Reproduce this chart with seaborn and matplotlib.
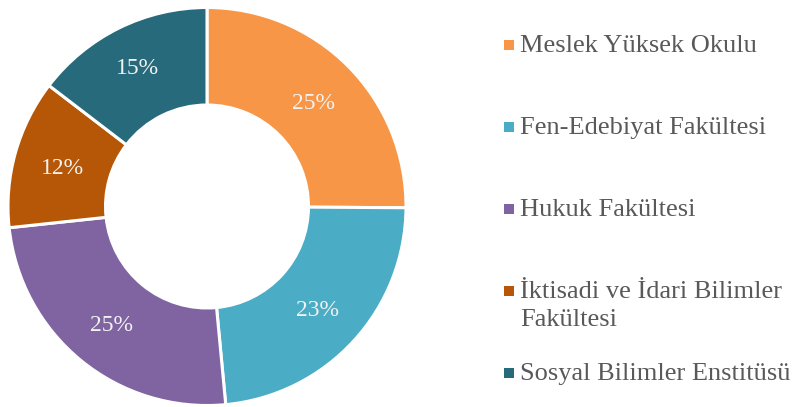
import matplotlib
matplotlib.use("Agg")
import matplotlib.pyplot as plt
import seaborn as sns
import numpy as np

categories = ["Meslek Yüksek Okulu", "Fen-Edebiyat Fakültesi", "Hukuk Fakültesi",
              "İktisadi ve İdari Bilimler\nFakültesi", "Sosyal Bilimler Enstitüsü"]
values = [25.1, 23.4, 24.8, 12.1, 14.6]
colors = ["#F79646", "#4BACC6", "#8064A2", "#B65708", "#276A7C"]

sns.set_theme(style="white")
plt.rcParams["font.family"] = ["Liberation Serif", "DejaVu Serif"]

W, H = 796, 407
fig = plt.figure(figsize=(W / 100, H / 100), dpi=100)
fig.patch.set_facecolor("white")

cx, cy, R = 207, 206.5, 199
ax = fig.add_axes([(cx - R) / W, (H - cy - R) / H, 2 * R / W, 2 * R / H])
palette = sns.color_palette(colors)
wedges, texts, autotexts = ax.pie(
    values, colors=palette, startangle=90, counterclock=False, radius=1,
    autopct="%.0f%%", pctdistance=0.755,
    wedgeprops=dict(width=0.49, edgecolor="white", linewidth=2.2),
    textprops=dict(color="#F2F2F2", fontsize=17),
)
for t in autotexts:
    t.set_va("center_baseline")
# the last label sits a little further out in the reference
w = wedges[4]
mid = np.deg2rad((w.theta1 + w.theta2) / 2)
autotexts[4].set_position((0.79 * np.cos(mid), 0.79 * np.sin(mid)))

ax.set_xlim(-1, 1)
ax.set_ylim(-1, 1)
ax.set_aspect("auto")
ax.axis("off")

# legend drawn on a pixel-coordinate overlay
lax = fig.add_axes([0, 0, 1, 1])
lax.set_xlim(0, W)
lax.set_ylim(H, 0)
lax.axis("off")
base0, step = 52, 82
for i, (lab, col) in enumerate(zip(categories, palette)):
    yb = base0 + i * step
    lax.scatter([508.5], [yb - 7.5], marker="s", s=44, color=col, linewidths=0)
    for j, line in enumerate(lab.split("\n")):
        lax.text(520, yb + j * 28, line, fontsize=19, color="#595959",
                 ha="left", va="baseline")

fig.savefig("out.png", dpi=100, facecolor="white")
